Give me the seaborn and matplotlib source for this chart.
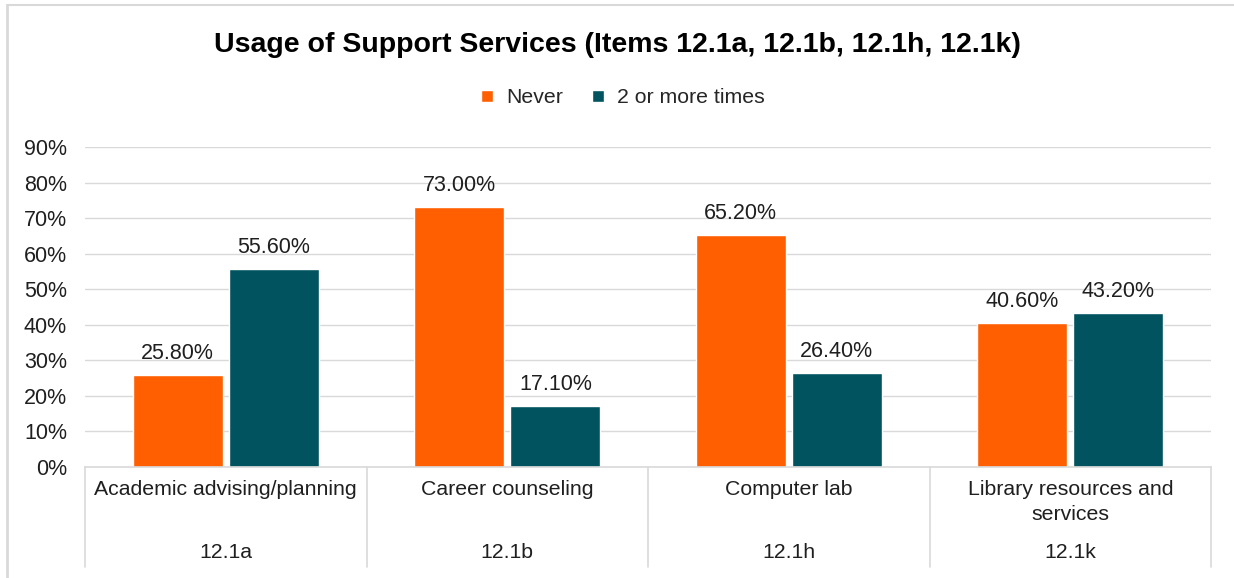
import numpy as np
import pandas as pd
import matplotlib.pyplot as plt
import seaborn as sns
from matplotlib.lines import Line2D

# datos del grafico
servicios = ["Academic advising/planning", "Career counseling", "Computer lab",
             "Library resources and\nservices"]
codigos = ["12.1a", "12.1b", "12.1h", "12.1k"]
nunca = [25.8, 73.0, 65.2, 40.6]
dos_o_mas = [55.6, 17.1, 26.4, 43.2]
series = ["Never", "2 or more times"]
colores = ["#FF5F00", "#01535F"]

df = pd.DataFrame({
    "servicio": servicios * 2,
    "pct": nunca + dos_o_mas,
    "freq": [series[0]] * 4 + [series[1]] * 4,
})

sns.set_style("white")
plt.rcParams["font.family"] = ["Liberation Sans", "DejaVu Sans"]
gris = "#D9D9D9"
texto = "#1F1F1F"

fig = plt.figure(figsize=(12.34, 5.78), dpi=100)
ax = fig.add_axes([85 / 1234, 111 / 578, 1126 / 1234, 320 / 578])

sns.barplot(data=df, x="servicio", y="pct", hue="freq", palette=colores,
            width=0.683, gap=0.0625, ax=ax, saturation=1, legend=True)

# etiquetas de datos
for cont in ax.containers:
    vals = [b.get_height() for b in cont]
    ax.bar_label(cont, labels=[f"{v:.2f}%" for v in vals], padding=8,
                 fontsize=15.5, color=texto)

ax.set_ylim(0, 90)
ax.set_xlim(-0.5, 3.5)
ax.set_yticks(np.arange(0, 91, 10))
ax.set_yticklabels([f"{v}%" for v in range(0, 91, 10)], fontsize=15.5, color=texto)
ax.tick_params(axis="y", length=0, pad=13)
ax.set_xticks([])
ax.set_xlabel("")
ax.set_ylabel("")
ax.grid(axis="y", color=gris, linewidth=1)
ax.set_axisbelow(True)
for s in ["left", "right", "top"]:
    ax.spines[s].set_visible(False)
ax.spines["bottom"].set_color(gris)
ax.spines["bottom"].set_linewidth(1.2)

# eje de categorias de dos niveles
tr = ax.get_xaxis_transform()
for xs in np.arange(-0.5, 4, 1):
    ax.plot([xs, xs], [0, -0.3125], transform=tr, color=gris, lw=1.2, clip_on=False)
for i in range(4):
    ax.text(i, -0.04, servicios[i], transform=tr, ha="center", va="top",
            fontsize=15.3, color=texto, linespacing=1.4)
    ax.text(i, -0.266, codigos[i], transform=tr, ha="center", va="center",
            fontsize=15.3, color=texto)

# leyenda
h, l = ax.get_legend_handles_labels()
ax.legend(h, l, ncol=2, loc="center", bbox_to_anchor=(0.5 + 6 / 1234, 1 - 98 / 578),
          bbox_transform=fig.transFigure, frameon=False, fontsize=15.3,
          handlelength=0.55, handleheight=0.55, handletextpad=0.6, columnspacing=1.4)

fig.text(0.5, 1 - 45 / 578, "Usage of Support Services (Items 12.1a, 12.1b, 12.1h, 12.1k)",
         ha="center", va="center", fontsize=20.5, fontweight="bold", color="black")

# borde del grafico (solo arriba e izquierda visibles)
fig.lines.append(Line2D([7 / 1234, 1], [1 - 5 / 578, 1 - 5 / 578],
                        transform=fig.transFigure, color=gris, lw=1.5))
fig.lines.append(Line2D([7 / 1234, 7 / 1234], [0, 1 - 5 / 578],
                        transform=fig.transFigure, color=gris, lw=2))

fig.savefig("out.png", dpi=100)
